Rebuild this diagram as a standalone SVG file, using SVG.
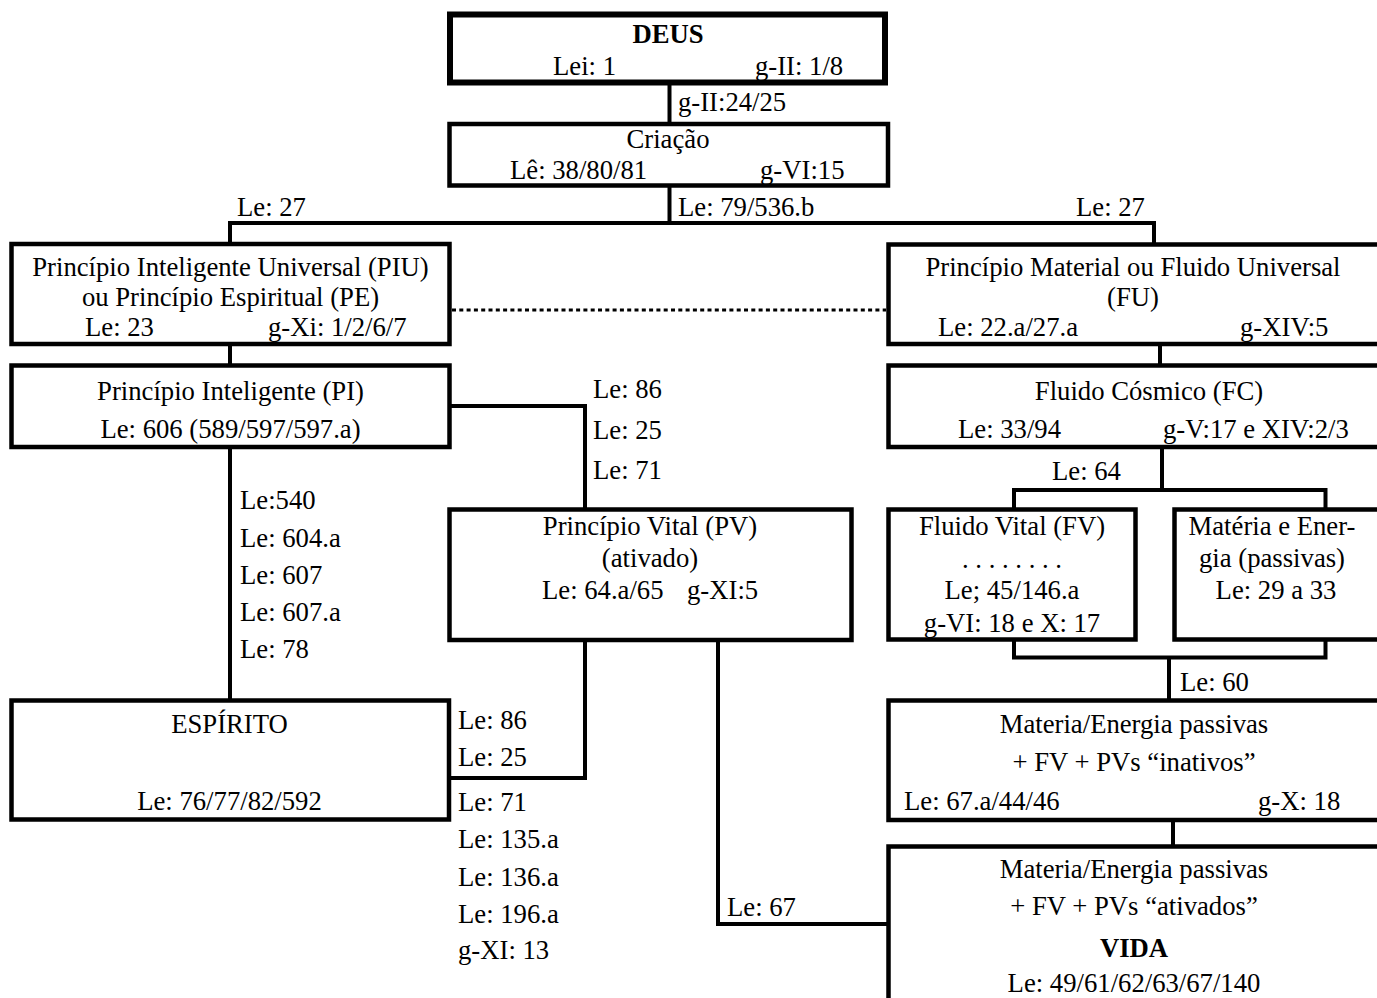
<svg xmlns="http://www.w3.org/2000/svg" width="1377" height="998" viewBox="0 0 1377 998">
<style>
text{font-family:"Liberation Serif","Times New Roman",serif;font-size:26.7px;fill:#000}
.c{text-anchor:middle}
.b{font-weight:bold}
.box{fill:#fff;stroke:#000;stroke-width:4.5}
.thick{stroke-width:6}
.con{fill:none;stroke:#000;stroke-width:4}
.dot{fill:none;stroke:#000;stroke-width:3;stroke-dasharray:4 3.3}
</style>
<rect width="1377" height="998" fill="#fff"/>
<g id="connectors">
<path class="con" d="M669.5 85 V122"/>
<path class="con" d="M669.5 187 V223"/>
<path class="con" d="M230 244 V223 H1154 V244"/>
<path class="con" d="M230 346 V365"/>
<path class="dot" d="M452 310 H886"/>
<path class="con" d="M450 406 H585 V509"/>
<path class="con" d="M230 447 V700"/>
<path class="con" d="M1160 346 V365"/>
<path class="con" d="M1162 447 V490"/>
<path class="con" d="M1014 509 V490 H1325.5 V509"/>
<path class="con" d="M1014 640 V657.5 H1325.5 V640"/>
<path class="con" d="M1169 657.5 V700"/>
<path class="con" d="M1173 820 V846"/>
<path class="con" d="M585 640 V778 H449"/>
<path class="con" d="M718 640 V924 H888"/>
<text x="678" y="111">g-II:24/25</text>
<text x="678" y="216">Le: 79/536.b</text>
<text x="237" y="216">Le: 27</text>
<text x="1076" y="216">Le: 27</text>
<text x="593" y="398">Le: 86</text>
<text x="593" y="439">Le: 25</text>
<text x="593" y="479">Le: 71</text>
<text x="240" y="509">Le:540</text>
<text x="240" y="547">Le: 604.a</text>
<text x="240" y="584">Le: 607</text>
<text x="240" y="621">Le: 607.a</text>
<text x="240" y="658">Le: 78</text>
<text x="458" y="729">Le: 86</text>
<text x="458" y="766">Le: 25</text>
<text x="458" y="811">Le: 71</text>
<text x="458" y="848">Le: 135.a</text>
<text x="458" y="886">Le: 136.a</text>
<text x="458" y="923">Le: 196.a</text>
<text x="458" y="959">g-XI: 13</text>
<text x="727" y="916">Le: 67</text>
<text x="1052" y="480">Le: 64</text>
<text x="1180" y="691">Le: 60</text>
</g>
<g id="deus">
<rect class="box thick" x="450" y="14.5" width="435" height="68"/>
<text class="c b" x="668" y="43">DEUS</text>
<text x="553" y="75">Lei: 1</text>
<text x="755" y="75">g-II: 1/8</text>
</g>
<g id="criacao">
<rect class="box" x="449.5" y="124" width="438.5" height="61.5"/>
<text class="c" x="668" y="148">Criação</text>
<text x="510" y="179">Lê: 38/80/81</text>
<text x="760" y="179">g-VI:15</text>
</g>
<g id="piu">
<rect class="box" x="11.5" y="244" width="438" height="100"/>
<text class="c" x="230.5" y="276">Princípio Inteligente Universal (PIU)</text>
<text class="c" x="230.5" y="306">ou Princípio Espiritual (PE)</text>
<text x="85" y="336">Le: 23</text>
<text x="268" y="336">g-Xi: 1/2/6/7</text>
</g>
<g id="fu">
<rect class="box" x="888.5" y="244.5" width="520" height="99.5"/>
<text class="c" x="1133" y="276">Princípio Material ou Fluido Universal</text>
<text class="c" x="1133" y="306">(FU)</text>
<text x="938" y="336">Le: 22.a/27.a</text>
<text x="1240" y="336">g-XIV:5</text>
</g>
<g id="pi">
<rect class="box" x="11.5" y="365.5" width="438" height="81.5"/>
<text class="c" x="230.5" y="400">Princípio Inteligente (PI)</text>
<text class="c" x="230.5" y="438">Le: 606 (589/597/597.a)</text>
</g>
<g id="fc">
<rect class="box" x="888.5" y="365.5" width="520" height="81.5"/>
<text class="c" x="1149" y="400">Fluido Cósmico (FC)</text>
<text x="958" y="438">Le: 33/94</text>
<text x="1163" y="438">g-V:17 e XIV:2/3</text>
</g>
<g id="pv">
<rect class="box" x="449.5" y="509.5" width="402" height="130.5"/>
<text class="c" x="650" y="535">Princípio Vital (PV)</text>
<text class="c" x="650" y="567">(ativado)</text>
<text x="542" y="599">Le: 64.a/65</text>
<text x="687" y="599">g-XI:5</text>
</g>
<g id="fv">
<rect class="box" x="888.5" y="509.5" width="247" height="130"/>
<text class="c" x="1012" y="535">Fluido Vital (FV)</text>
<text class="c" x="1012" y="568">. . . . . . . .</text>
<text class="c" x="1012" y="599">Le; 45/146.a</text>
<text class="c" x="1012" y="632">g-VI: 18 e X: 17</text>
</g>
<g id="materia-energia">
<rect class="box" x="1174.5" y="509.5" width="300" height="130"/>
<text class="c" x="1272" y="535">Matéria e Ener-</text>
<text class="c" x="1272" y="567">gia (passivas)</text>
<text class="c" x="1276" y="599">Le: 29 a 33</text>
</g>
<g id="espirito">
<rect class="box" x="11.5" y="700.5" width="437.5" height="119"/>
<text class="c" x="229.5" y="733">ESPÍRITO</text>
<text class="c" x="229.5" y="810">Le: 76/77/82/592</text>
</g>
<g id="inativos">
<rect class="box" x="888.5" y="700.5" width="520" height="119.5"/>
<text class="c" x="1134" y="733">Materia/Energia passivas</text>
<text class="c" x="1134" y="771">+ FV + PVs “inativos”</text>
<text x="904" y="810">Le: 67.a/44/46</text>
<text x="1258" y="810">g-X: 18</text>
</g>
<g id="vida">
<rect class="box" x="888.5" y="846.5" width="520" height="200"/>
<text class="c" x="1134" y="878">Materia/Energia passivas</text>
<text class="c" x="1134" y="915">+ FV + PVs “ativados”</text>
<text class="c b" x="1134" y="957">VIDA</text>
<text class="c" x="1134" y="992">Le: 49/61/62/63/67/140</text>
</g>
</svg>
